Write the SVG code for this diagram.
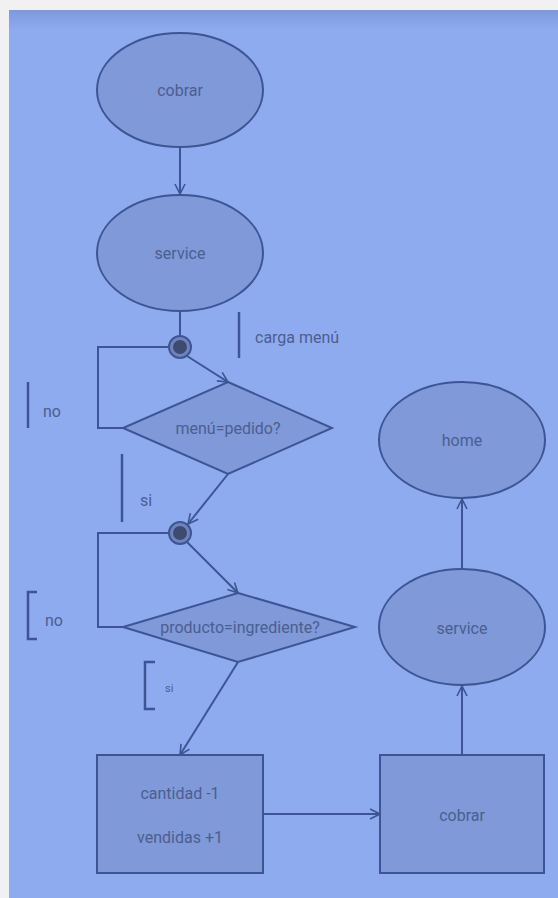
<svg xmlns="http://www.w3.org/2000/svg" width="558" height="898" viewBox="0 0 558 898">
<defs>
<linearGradient id="topShade" x1="0" y1="0" x2="0" y2="1">
<stop offset="0" stop-color="#7e98dc"/>
<stop offset="1" stop-color="#8eabef"/>
</linearGradient>
<marker id="arr" viewBox="0 0 12 12" refX="11" refY="6" markerWidth="12" markerHeight="12" markerUnits="userSpaceOnUse" orient="auto">
<path d="M1,1 L11,6 L1,11" fill="none" stroke="#3d5592" stroke-width="1.6"/>
</marker>
</defs>
<style>
.node{fill:#7f99d9;stroke:#3d5592;stroke-width:2}
.txt{font-family:Roboto,"Liberation Sans",sans-serif;font-size:16px;fill:#4d5e90;text-anchor:middle}
.lbl{font-family:Roboto,"Liberation Sans",sans-serif;font-size:16px;fill:#4d5e90}
.line{fill:none;stroke:#3d5592;stroke-width:2}
.mark{fill:none;stroke:#3d5592;stroke-width:2.5}
</style>
<rect x="0" y="0" width="558" height="898" fill="#f1f1f1"/>
<rect x="9" y="10" width="549" height="888" fill="#8eabef"/>
<rect x="9" y="10" width="549" height="20" fill="url(#topShade)"/>

<g id="connectors">
<line class="line" x1="180" y1="147" x2="180" y2="194" marker-end="url(#arr)"/>
<line class="line" x1="180" y1="311" x2="180" y2="335"/>
<polyline class="line" points="168,347 98,347 98,428 123,428"/>
<line class="line" x1="187" y1="356" x2="228" y2="382" marker-end="url(#arr)"/>
<line class="line" x1="228" y1="474" x2="188" y2="524" marker-end="url(#arr)"/>
<polyline class="line" points="169,533 98,533 98,627 123,627"/>
<line class="line" x1="187" y1="542" x2="238" y2="593" marker-end="url(#arr)"/>
<line class="line" x1="238" y1="662" x2="180" y2="755" marker-end="url(#arr)"/>
<line class="line" x1="263" y1="814" x2="380" y2="814" marker-end="url(#arr)"/>
<line class="line" x1="462" y1="755" x2="462" y2="686" marker-end="url(#arr)"/>
<line class="line" x1="462" y1="568" x2="462" y2="499" marker-end="url(#arr)"/>
</g>

<g id="n_cobrar_start">
<ellipse class="node" cx="180" cy="90" rx="83" ry="57"/>
<text class="txt" x="180" y="96">cobrar</text>
</g>
<g id="n_service">
<ellipse class="node" cx="180" cy="253" rx="83" ry="58"/>
<text class="txt" x="180" y="259">service</text>
</g>
<g id="n_junction1">
<circle cx="180" cy="347" r="11" fill="#6f84bd" stroke="#3d5592" stroke-width="2"/>
<circle cx="180" cy="347" r="7" fill="#3f4b6e"/>
</g>
<g id="n_carga">
<line class="mark" x1="239" y1="312" x2="239" y2="358"/>
<text class="lbl" x="255" y="343">carga menú</text>
</g>
<g id="n_menu">
<polygon class="node" points="228,382 332,428 228,474 123,428"/>
<text class="txt" x="228" y="434">menú=pedido?</text>
</g>
<g id="n_no1">
<line class="mark" x1="28" y1="382" x2="28" y2="428"/>
<text class="lbl" x="43" y="417">no</text>
</g>
<g id="n_si1">
<line class="mark" x1="122" y1="454" x2="122" y2="522"/>
<text class="lbl" x="140" y="506">si</text>
</g>
<g id="n_junction2">
<circle cx="180" cy="533" r="11" fill="#6f84bd" stroke="#3d5592" stroke-width="2"/>
<circle cx="180" cy="533" r="7" fill="#3f4b6e"/>
</g>
<g id="n_producto">
<polygon class="node" points="238,593 355,627 238,662 123,627"/>
<text class="txt" x="240" y="633">producto=ingrediente?</text>
</g>
<g id="n_no2">
<polyline class="mark" points="37,592 28,592 28,639 37,639"/>
<text class="lbl" x="45" y="626">no</text>
</g>
<g id="n_si2">
<polyline class="mark" points="155,662 145,662 145,709 155,709"/>
<text class="lbl" x="165" y="692" style="font-size:11px">si</text>
</g>
<g id="n_cantidad">
<rect class="node" x="97" y="755" width="166" height="118"/>
<text class="txt" x="180" y="799">cantidad -1</text>
<text class="txt" x="180" y="843">vendidas +1</text>
</g>
<g id="n_cobrar_box">
<rect class="node" x="380" y="755" width="164" height="118"/>
<text class="txt" x="462" y="821">cobrar</text>
</g>
<g id="n_service2">
<ellipse class="node" cx="462" cy="627" rx="83" ry="58"/>
<text class="txt" x="462" y="634">service</text>
</g>
<g id="n_home">
<ellipse class="node" cx="462" cy="440" rx="83" ry="58"/>
<text class="txt" x="462" y="446">home</text>
</g>
</svg>
